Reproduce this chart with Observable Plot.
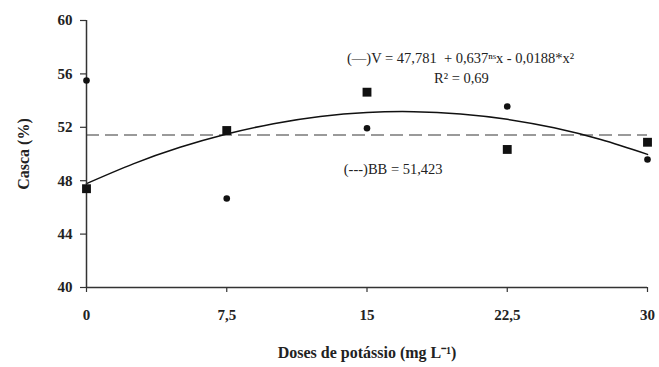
<!DOCTYPE html>
<html>
<head>
<meta charset="utf-8">
<script src="https://cdn.jsdelivr.net/npm/d3@7"></script>
<script src="https://cdn.jsdelivr.net/npm/@observablehq/plot@0.6"></script>
<style>
  html, body { margin: 0; padding: 0; background: #fff; }
  #chart svg { display: block; }
</style>
</head>
<body>
<div id="chart"></div>
<script>
// Doses of potassium (mg L-1)
const doses = [0, 7.5, 15, 22.5, 30];
// Series V (squares, quadratic fit)
const valuesV = [47.4, 51.76, 54.63, 50.34, 50.88];
// Series BB (dots, mean line)
const valuesBB = [55.5, 46.67, 51.93, 53.56, 49.59];
const meanBB = 51.423;
// Fitted curve for V
const curveX = [0, 2.5, 5, 7.5, 10, 12.5, 15, 17.5, 20, 22.5, 25, 27.5, 30];
const curveY = [47.78, 49.26, 50.50, 51.50, 52.27, 52.81, 53.11, 53.17, 53.00, 52.60, 51.96, 51.08, 49.97];
// Tick labels
const xTicks = [0, 7.5, 15, 22.5, 30];
const yTicks = [40, 44, 48, 52, 56, 60];
const eqText = "(\u2014)V = 47,781  + 0,637\u207F\u02E2x - 0,0188*x\u00B2";
const r2Text = "R\u00B2 = 0,69";
const bbText = "(---)BB = 51,423";

const ptsV = doses.map((d, i) => ({x: d, y: valuesV[i]}));
const ptsBB = doses.map((d, i) => ({x: d, y: valuesBB[i]}));
const curve = curveX.map((d, i) => ({x: d, y: curveY[i]}));

const font = "'Liberation Serif', 'Times New Roman', serif";

const chart = Plot.plot({
  width: 659,
  height: 367,
  marginLeft: 86,
  marginRight: 12,
  marginTop: 20,
  marginBottom: 80,
  style: {fontFamily: font, background: "#fff", color: "#222"},
  x: {domain: [0, 30]},
  y: {domain: [40, 60]},
  marks: [
    Plot.ruleY([meanBB], {stroke: "#9a9a9a", strokeWidth: 2, strokeDasharray: "13,6"}),
    Plot.line(curve, {x: "x", y: "y", curve: "natural", stroke: "#111", strokeWidth: 1.5}),
    Plot.axisY({
      ticks: yTicks, tickSize: 6, tickPadding: 8, fontSize: 15, fontWeight: "bold",
      stroke: "#333", strokeWidth: 1.2,
      label: "Casca (%)", labelAnchor: "center", labelArrow: "none", labelOffset: 69
    }),
    Plot.axisX({
      ticks: xTicks, tickSize: 5, tickPadding: 17, fontSize: 15, fontWeight: "bold",
      stroke: "#333", strokeWidth: 1.2,
      tickFormat: d => String(d).replace(".", ","),
      label: "Doses de pot\u00E1ssio (mg L\u207B\u00B9)", labelAnchor: "center", labelArrow: "none", labelOffset: 70
    }),
    Plot.ruleX([0], {stroke: "#333", strokeWidth: 1.5}),
    Plot.ruleY([40], {stroke: "#333", strokeWidth: 1.5}),
    Plot.dot(ptsBB, {x: "x", y: "y", r: 3.3, fill: "#111", stroke: "none"}),
    Plot.dot(ptsV, {x: "x", y: "y", symbol: "square", r: 5, fill: "#111", stroke: "none"}),
    Plot.text([eqText], {x: 20.0, y: 57.2, text: d => d, fontSize: 14.5, fill: "#222", textAnchor: "middle"}),
    Plot.text([r2Text], {x: 20.05, y: 55.65, text: d => d, fontSize: 14.5, fill: "#222", textAnchor: "middle"}),
    Plot.text([bbText], {x: 16.4, y: 48.85, text: d => d, fontSize: 14.5, fill: "#222", textAnchor: "middle"})
  ]
});

// bold axis labels
d3.select(chart).selectAll("g[aria-label='y-axis label'] text, g[aria-label='x-axis label'] text")
  .attr("font-weight", "bold").attr("font-size", 16);

document.getElementById("chart").appendChild(chart);
</script>
</body>
</html>
